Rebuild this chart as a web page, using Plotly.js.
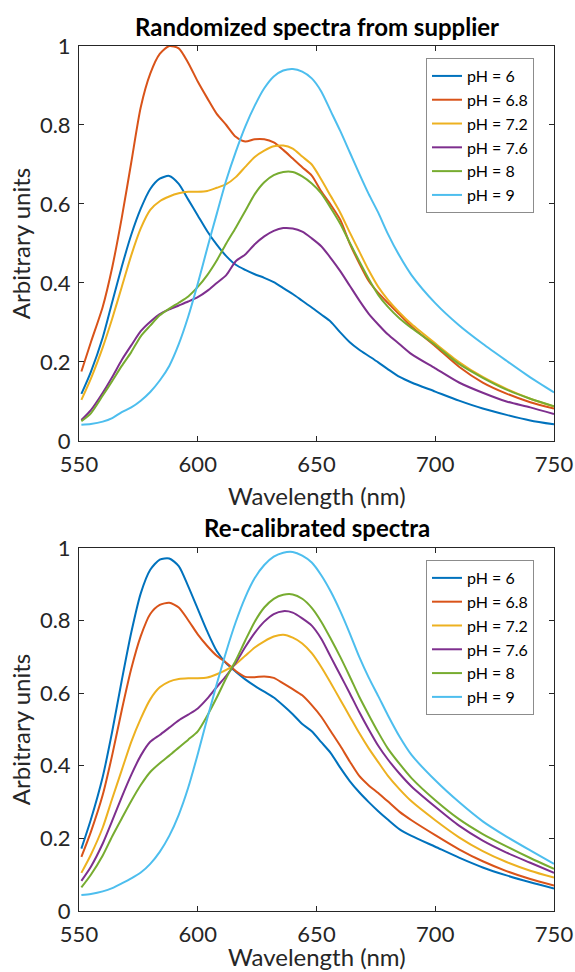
<!DOCTYPE html>
<html>
<head>
<meta charset="utf-8">
<script src="https://cdn.plot.ly/plotly-3.0.1.min.js"></script>
<style>html,body{margin:0;padding:0;background:#fff;}#chart{width:575px;height:972px;}</style>
</head>
<body>
<div id="chart"></div>
<script>
// Wavelength grid (nm)
const wavelength = [551,555,560,564,568,572,576,580,584,588,592,596,600,604,608,612,616,620,624,628,632,636,640,644,648,652,656,660,664,668,672,676,680,685,690,700,710,720,730,740,750];

const seriesNames = ['pH = 6','pH = 6.8','pH = 7.2','pH = 7.6','pH = 8','pH = 9'];
const seriesColors = ['#0072BD','#D95319','#EDB120','#7E2F8E','#77AC30','#4DBEEE'];

// Top panel: randomized spectra from supplier
const raw_pH6   = [0.119,0.175,0.262,0.352,0.441,0.522,0.588,0.638,0.664,0.671,0.651,0.611,0.571,0.531,0.497,0.468,0.446,0.433,0.422,0.413,0.402,0.387,0.372,0.355,0.338,0.320,0.302,0.275,0.250,0.231,0.215,0.199,0.182,0.162,0.148,0.125,0.102,0.082,0.066,0.052,0.042];
const raw_pH6_8 = [0.176,0.250,0.340,0.440,0.565,0.705,0.845,0.930,0.980,1.000,0.994,0.957,0.910,0.868,0.828,0.800,0.770,0.758,0.764,0.764,0.756,0.737,0.715,0.693,0.672,0.632,0.598,0.560,0.500,0.450,0.405,0.375,0.350,0.320,0.290,0.240,0.188,0.148,0.120,0.098,0.082];
const raw_pH7_2 = [0.104,0.158,0.237,0.310,0.390,0.470,0.538,0.585,0.607,0.619,0.627,0.631,0.631,0.633,0.641,0.650,0.668,0.694,0.719,0.735,0.746,0.748,0.740,0.720,0.700,0.662,0.620,0.578,0.528,0.480,0.432,0.390,0.358,0.325,0.296,0.247,0.200,0.162,0.132,0.107,0.087];
const raw_pH7_6 = [0.053,0.078,0.122,0.162,0.205,0.242,0.278,0.302,0.321,0.333,0.343,0.353,0.364,0.380,0.400,0.420,0.455,0.472,0.498,0.518,0.532,0.539,0.538,0.530,0.513,0.493,0.463,0.430,0.393,0.356,0.322,0.295,0.270,0.245,0.220,0.184,0.148,0.122,0.100,0.085,0.068];
const raw_pH8   = [0.050,0.070,0.115,0.152,0.190,0.225,0.265,0.292,0.318,0.335,0.350,0.366,0.390,0.420,0.457,0.500,0.540,0.582,0.625,0.655,0.673,0.681,0.681,0.670,0.652,0.627,0.590,0.550,0.502,0.455,0.410,0.370,0.340,0.310,0.286,0.243,0.195,0.160,0.130,0.107,0.088];
const raw_pH9   = [0.041,0.043,0.049,0.058,0.073,0.085,0.102,0.124,0.153,0.190,0.245,0.315,0.398,0.488,0.575,0.660,0.732,0.796,0.849,0.893,0.923,0.938,0.942,0.935,0.918,0.885,0.835,0.785,0.731,0.677,0.625,0.578,0.525,0.468,0.420,0.349,0.293,0.246,0.203,0.161,0.123];

// Bottom panel: re-calibrated spectra
const cal_pH6   = [0.172,0.252,0.370,0.495,0.635,0.767,0.875,0.940,0.968,0.971,0.950,0.894,0.832,0.770,0.716,0.682,0.659,0.638,0.620,0.604,0.588,0.566,0.542,0.515,0.495,0.465,0.435,0.395,0.358,0.327,0.300,0.275,0.252,0.225,0.207,0.177,0.147,0.120,0.098,0.079,0.062];
const cal_pH6_8 = [0.149,0.218,0.320,0.430,0.553,0.667,0.757,0.818,0.843,0.849,0.836,0.801,0.762,0.730,0.703,0.684,0.661,0.645,0.644,0.646,0.642,0.627,0.611,0.594,0.567,0.535,0.495,0.455,0.412,0.372,0.346,0.325,0.302,0.273,0.250,0.209,0.170,0.137,0.110,0.088,0.070];
const cal_pH7_2 = [0.105,0.155,0.230,0.310,0.388,0.466,0.530,0.583,0.616,0.632,0.639,0.641,0.641,0.643,0.652,0.664,0.680,0.703,0.726,0.743,0.756,0.761,0.753,0.737,0.710,0.672,0.628,0.582,0.536,0.490,0.448,0.410,0.373,0.335,0.302,0.250,0.203,0.165,0.135,0.111,0.092];
const cal_pH7_6 = [0.083,0.122,0.186,0.249,0.314,0.375,0.428,0.466,0.485,0.505,0.525,0.541,0.558,0.585,0.617,0.648,0.684,0.727,0.766,0.797,0.818,0.826,0.822,0.806,0.786,0.750,0.700,0.650,0.600,0.548,0.500,0.455,0.418,0.378,0.343,0.287,0.235,0.194,0.161,0.133,0.105];
const cal_pH8   = [0.065,0.100,0.153,0.206,0.255,0.303,0.347,0.383,0.407,0.428,0.450,0.472,0.495,0.538,0.588,0.642,0.690,0.745,0.797,0.836,0.860,0.871,0.872,0.860,0.835,0.797,0.750,0.700,0.646,0.590,0.540,0.492,0.448,0.405,0.366,0.305,0.253,0.212,0.178,0.146,0.116];
const cal_pH9   = [0.044,0.047,0.054,0.063,0.076,0.090,0.106,0.130,0.163,0.207,0.265,0.340,0.432,0.530,0.625,0.715,0.796,0.864,0.917,0.953,0.976,0.987,0.989,0.979,0.960,0.925,0.880,0.826,0.765,0.700,0.643,0.592,0.540,0.480,0.430,0.360,0.300,0.247,0.205,0.167,0.130];

const xTicks = [550,600,650,700,750];
const yTicks = [0,0.2,0.4,0.6,0.8,1];
const yTickText = ['0','0.2','0.4','0.6','0.8','1'];

const rawSeries = [raw_pH6, raw_pH6_8, raw_pH7_2, raw_pH7_6, raw_pH8, raw_pH9];
const calSeries = [cal_pH6, cal_pH6_8, cal_pH7_2, cal_pH7_6, cal_pH8, cal_pH9];

const FONT = 'Lato, "Open Sans", sans-serif';
const INK = '#262626';

const traces = [];
rawSeries.forEach((ys, i) => traces.push({
  x: wavelength, y: ys, type: 'scatter', mode: 'lines', name: seriesNames[i],
  line: {color: seriesColors[i], width: 2, shape: 'spline', smoothing: 0.7},
  xaxis: 'x', yaxis: 'y', legend: 'legend'
}));
calSeries.forEach((ys, i) => traces.push({
  x: wavelength, y: ys, type: 'scatter', mode: 'lines', name: seriesNames[i],
  line: {color: seriesColors[i], width: 2, shape: 'spline', smoothing: 0.7},
  xaxis: 'x2', yaxis: 'y2', legend: 'legend2'
}));

function xAxis(anchor) {
  return {
    anchor: anchor, range: [550, 750], tickvals: xTicks, ticktext: xTicks.map(String),
    ticks: 'inside', ticklen: 5, tickwidth: 1, tickcolor: INK,
    showline: true, linecolor: INK, linewidth: 1, mirror: 'ticks',
    showgrid: false, zeroline: false, ticklabelstandoff: 4,
    tickfont: {family: FONT, size: 22, color: INK}
  };
}
function yAxis(anchor, domain) {
  return {
    anchor: anchor, domain: domain, range: [0, 1], tickvals: yTicks, ticktext: yTickText,
    ticks: 'inside', ticklen: 5, tickwidth: 1, tickcolor: INK,
    showline: true, linecolor: INK, linewidth: 1, mirror: 'ticks',
    showgrid: false, zeroline: false, ticklabelstandoff: 3,
    tickfont: {family: FONT, size: 22, color: INK},
    title: {text: 'Arbitrary units', font: {family: FONT, size: 24, color: INK}, standoff: 2}
  };
}
function legendBox(y) {
  return {
    x: 0.7305, y: y, xanchor: 'left', yanchor: 'top',
    bgcolor: '#ffffff', bordercolor: '#8c8c8c', borderwidth: 1,
    font: {family: FONT, size: 16, color: '#000'}, tracegroupgap: 0
  };
}
function xTitle(y) {
  return {text: 'Wavelength (nm)', xref: 'paper', yref: 'paper', x: 0.5, y: y,
    xanchor: 'center', yanchor: 'bottom', showarrow: false, borderpad: 0,
    font: {family: FONT, size: 24, color: INK}};
}

const layout = {
  width: 575, height: 972,
  margin: {l: 79, r: 21, t: 46, b: 61},
  paper_bgcolor: '#ffffff', plot_bgcolor: '#ffffff',
  showlegend: true,
  xaxis: xAxis('y'),
  yaxis: yAxis('x', [0.5434, 1]),
  xaxis2: xAxis('y2'),
  yaxis2: yAxis('x2', [0, 0.4197]),
  legend: legendBox(0.9861),
  legend2: legendBox(0.4058),
  annotations: [
    {text: '<b>Randomized spectra from supplier</b>', xref: 'paper', yref: 'paper', x: 0.5, y: 1.0231,
     xanchor: 'center', yanchor: 'middle', showarrow: false, font: {family: FONT, size: 24, color: '#000'}},
    {text: '<b>Re-calibrated spectra</b>', xref: 'paper', yref: 'paper', x: 0.5, y: 0.4428,
     xanchor: 'center', yanchor: 'middle', showarrow: false, font: {family: FONT, size: 24, color: '#000'}},
    xTitle(0.4624),
    xTitle(-0.0705)
  ]
};

Plotly.newPlot('chart', traces, layout, {displayModeBar: false, staticPlot: true});
</script>
</body>
</html>
